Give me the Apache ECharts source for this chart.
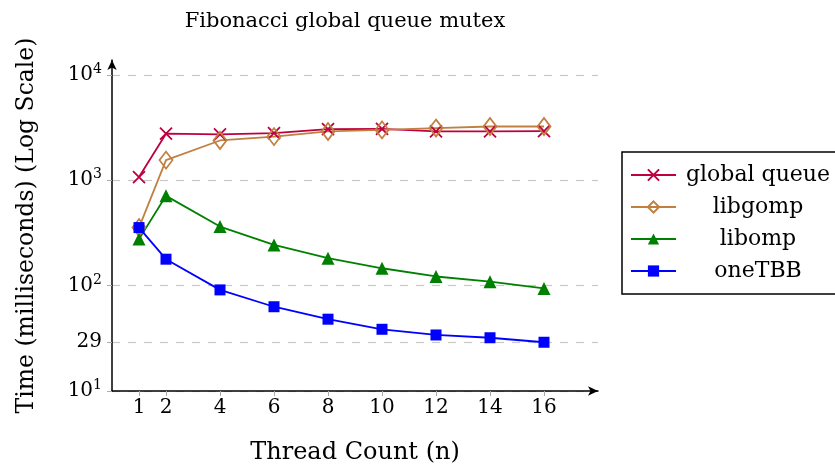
<!doctype html>
<html lang="en">
<head>
    <meta charset="utf-8">
    <title>Fibonacci global queue mutex</title>
    <style>
        html, body { margin: 0; padding: 0; background: #fff; }
        #chart { width: 835px; height: 472px; }
    </style>
</head>
<body>
    <div id="chart"></div>
    <script src="https://cdn.jsdelivr.net/npm/echarts@6/dist/echarts.min.js"></script>
    <script>
        var threads = [1, 2, 4, 6, 8, 10, 12, 14, 16];
        var globalQueue = [1070, 2760, 2720, 2790, 3050, 3070, 2900, 2900, 2920];
        var libgomp = [355, 1550, 2380, 2590, 2900, 3000, 3120, 3230, 3230];
        var libomp = [276, 710, 363, 243, 182, 146, 122, 109, 94];
        var oneTBB = [355, 178, 91, 63, 48, 38.5, 34, 32, 29];
        var yTicks = [10, 29, 100, 1000, 10000];

        var font = 'DejaVu Serif';
        var lg = function (v) { return Math.log10(v); };
        var pts = function (vals) {
            return threads.map(function (t, i) { return [t, lg(vals[i])]; });
        };
        var yTickPos = yTicks.map(lg);

        var chart = echarts.init(document.getElementById('chart'));

        function mk(name, vals, color, symbol, size, hollow) {
            return {
                name: name,
                type: 'line',
                data: pts(vals),
                symbol: symbol,
                symbolSize: size,
                showAllSymbol: true,
                lineStyle: { color: color, width: 1.8 },
                itemStyle: {
                    color: hollow ? 'rgba(255,255,255,0)' : color,
                    borderColor: color,
                    borderWidth: hollow ? 1.8 : 0
                },
                emphasis: { disabled: true },
                z: 3
            };
        }

        chart.setOption({
            animation: false,
            textStyle: { fontFamily: font },
            title: {
                text: 'Fibonacci global queue mutex',
                left: 340,
                top: 6,
                textAlign: 'center',
                textStyle: { fontFamily: font, fontSize: 21, fontWeight: 'normal', color: '#000' }
            },
            legend: {
                orient: 'vertical',
                left: 622,
                top: 152,
                padding: [12, 6, 12, 8],
                itemGap: 10,
                itemWidth: 45,
                itemHeight: 14,
                borderColor: '#000',
                borderWidth: 1.5,
                borderRadius: 0,
                data: ['global queue', 'libgomp', 'libomp', 'oneTBB'],
                formatter: function (n) { return '{a|' + n + '}'; },
                textStyle: {
                    fontFamily: font, fontSize: 22, color: '#000',
                    rich: { a: { width: 154, height: 24, align: 'center', fontFamily: font, fontSize: 22 } }
                }
            },
            grid: { left: 112, top: 60, right: 237, bottom: 81, containLabel: false },
            xAxis: {
                type: 'value',
                min: 0,
                max: 18,
                name: 'Thread Count (n)',
                nameLocation: 'middle',
                nameGap: 50,
                nameTextStyle: { fontFamily: font, fontSize: 24, color: '#000' },
                axisLine: { lineStyle: { color: '#000', width: 1.5 }, symbol: ['none', 'arrow'], symbolSize: [7, 10] },
                axisTick: { customValues: threads, length: 5, lineStyle: { color: '#aaa' } },
                axisLabel: { customValues: threads, fontFamily: font, fontSize: 20, color: '#000', margin: 7 },
                splitLine: { show: false }
            },
            yAxis: {
                type: 'value',
                min: 1,
                max: 4.14,
                name: 'Time (milliseconds) (Log Scale)',
                nameLocation: 'middle',
                nameRotate: 90,
                nameGap: 73,
                nameTextStyle: { fontFamily: font, fontSize: 23.5, color: '#000' },
                axisLine: { lineStyle: { color: '#000', width: 1.5 }, symbol: ['none', 'arrow'], symbolSize: [7, 10] },
                axisTick: { customValues: yTickPos, length: 5, lineStyle: { color: '#aaa' } },
                axisLabel: {
                    customValues: yTickPos,
                    margin: 10,
                    color: '#000',
                    formatter: function (v) {
                        var r = Math.round(v);
                        if (Math.abs(v - r) < 1e-6) return '{b|10}{s|' + r + '}';
                        return '{b|' + Math.round(Math.pow(10, v)) + '}';
                    },
                    rich: {
                        b: { fontFamily: font, fontSize: 20, color: '#000' },
                        s: { fontFamily: font, fontSize: 14, color: '#000', padding: [0, 0, 11, 0] }
                    }
                },
                splitLine: {
                    show: true,
                    customValues: yTickPos.slice(1),
                    lineStyle: { color: '#c8c8c8', type: [8, 8], width: 1.2 }
                }
            },
            series: [
                mk('global queue', globalQueue, '#bf0040', 'path://M0,0L10,10M10,0L0,10', 12, true),
                mk('libgomp', libgomp, '#bf8040', 'diamond', [13, 17], true),
                mk('libomp', libomp, '#008000', 'triangle', 13, false),
                mk('oneTBB', oneTBB, '#0000ff', 'rect', 11, false)
            ]
        });
    </script>
</body>
</html>
